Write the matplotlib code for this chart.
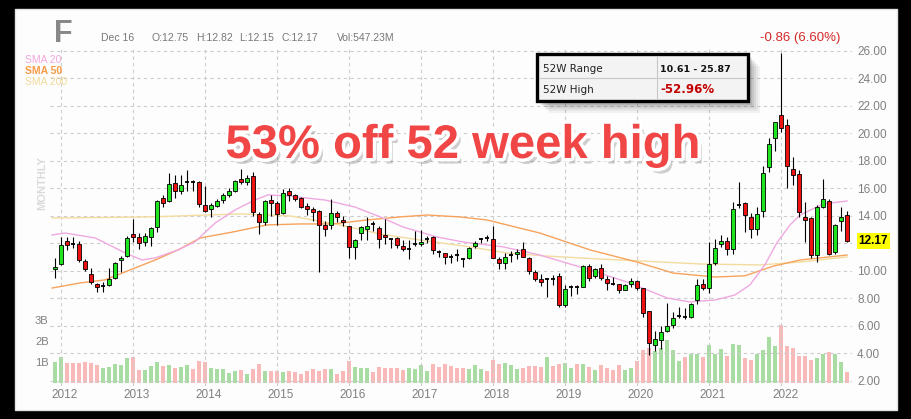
import numpy as np
import matplotlib.pyplot as plt
import matplotlib.patheffects as pe
from matplotlib.patches import Rectangle
from matplotlib.transforms import blended_transform_factory

plt.rcParams['font.family'] = ['Liberation Sans', 'DejaVu Sans']

# monthly candles, Dec 2011 .. Dec 2022 (index 0 = Dec 2011)
opens = [10.12, 10.54, 12.20, 12.00, 11.95, 10.73, 9.80, 9.02, 8.90, 9.00, 9.51, 10.80, 11.10, 12.68, 12.49, 12.10,
         12.49, 13.17, 15.32, 15.07, 16.39, 15.78, 16.46, 16.46, 16.46, 14.83, 14.51, 14.70, 15.17, 15.56, 15.85, 16.71,
         16.46, 16.88, 14.15, 13.54, 15.17, 14.95, 14.20, 15.78, 15.54, 15.32, 14.76, 14.51, 14.39, 13.37, 13.32, 14.22,
         13.71, 13.30, 11.73, 12.76, 13.05, 13.40, 13.15, 12.62, 12.31, 12.38, 11.82, 11.61, 11.93, 11.94, 12.29, 12.47,
         11.41, 11.28, 11.03, 11.15, 10.91, 10.97, 11.82, 12.29, 12.43, 12.30, 10.85, 10.60, 11.15, 11.21, 11.58, 10.92,
         9.93, 9.42, 9.44, 9.45, 9.66, 7.50, 8.79, 8.85, 8.84, 10.39, 9.64, 10.24, 9.44, 9.09, 9.08, 8.64,
         9.08, 9.25, 8.79, 7.07, 4.62, 4.95, 5.66, 6.10, 6.70, 6.66, 6.68, 7.87, 9.08, 8.76, 10.60, 11.94,
         12.21, 11.60, 14.78, 14.92, 13.95, 13.05, 14.36, 17.59, 19.70, 21.35, 20.62, 17.39, 17.03, 13.95, 13.83, 11.16,
         14.68, 15.09, 11.41, 13.60, 14.07]
highs = [10.98, 12.49, 12.44, 12.44, 12.20, 10.90, 10.24, 9.14, 9.22, 10.20, 10.66, 11.10, 12.56, 13.76, 12.73, 12.73,
         13.17, 15.17, 15.49, 17.12, 17.00, 17.00, 17.37, 16.58, 16.54, 16.15, 14.93, 15.24, 15.66, 16.05, 16.63, 17.44,
         16.95, 17.20, 14.27, 15.17, 15.56, 15.07, 15.98, 16.05, 15.61, 15.37, 14.93, 14.63, 14.44, 13.66, 15.22, 14.39,
         14.02, 13.30, 12.32, 13.30, 13.90, 13.66, 13.30, 13.76, 12.31, 12.47, 12.23, 12.23, 12.91, 12.96, 12.55, 12.55,
         11.50, 11.33, 11.26, 11.58, 10.91, 11.75, 12.18, 12.42, 12.59, 13.27, 11.02, 11.33, 11.45, 11.58, 12.11, 11.02,
         10.05, 9.80, 9.51, 9.68, 9.85, 9.00, 8.96, 8.96, 10.41, 10.48, 10.24, 10.48, 9.61, 9.56, 9.08, 9.08,
         9.51, 9.37, 8.79, 7.07, 5.66, 6.00, 7.65, 7.00, 7.35, 7.33, 7.67, 9.44, 9.44, 12.10, 12.33, 12.62,
         12.50, 15.04, 16.50, 15.04, 14.19, 14.68, 17.64, 19.65, 20.86, 25.87, 21.05, 18.27, 17.35, 15.04, 13.95, 14.80,
         16.69, 15.24, 13.39, 14.68, 14.36]
lows = [9.46, 10.45, 11.51, 11.66, 10.68, 9.99, 9.07, 8.49, 8.46, 8.93, 9.39, 9.93, 11.00, 12.12, 11.59, 11.83,
        11.83, 12.85, 14.63, 15.00, 15.32, 15.61, 15.80, 15.85, 14.63, 14.27, 13.95, 14.63, 14.93, 15.37, 15.73, 16.34,
        16.22, 14.02, 12.66, 13.37, 14.00, 13.37, 14.15, 15.12, 15.07, 14.58, 14.07, 13.66, 9.95, 12.56, 13.05, 13.54,
        13.30, 10.98, 10.85, 12.24, 12.24, 12.93, 11.70, 11.99, 11.65, 11.65, 11.45, 10.85, 11.82, 11.82, 12.06, 11.26,
        11.02, 10.53, 10.60, 10.73, 10.29, 10.90, 11.70, 12.06, 12.18, 10.92, 10.17, 10.12, 10.65, 10.85, 11.02, 9.80,
        9.27, 8.90, 8.10, 8.96, 7.38, 7.38, 8.16, 8.35, 8.84, 9.27, 9.51, 9.32, 8.59, 8.96, 8.42, 8.59,
        8.84, 8.59, 6.65, 3.92, 4.18, 4.30, 5.56, 5.85, 6.55, 6.53, 6.60, 7.62, 8.59, 8.40, 10.44, 11.77,
        11.16, 11.21, 14.56, 12.86, 12.38, 12.62, 13.95, 17.22, 18.73, 20.13, 16.01, 16.25, 13.95, 12.13, 10.92, 10.63,
        14.61, 11.16, 11.26, 12.93, 12.13]
closes = [10.29, 11.88, 11.90, 11.99, 10.83, 10.12, 9.22, 8.85, 8.91, 9.39, 10.61, 10.93, 12.39, 12.49, 12.07, 12.56,
          13.10, 15.12, 14.95, 16.29, 15.80, 16.22, 16.47, 16.45, 14.88, 14.39, 14.83, 15.07, 15.56, 15.85, 16.54, 16.46,
          16.78, 14.27, 13.54, 15.12, 14.95, 14.15, 15.68, 15.54, 15.24, 14.68, 14.51, 14.27, 13.37, 13.05, 14.20, 13.90,
          13.54, 11.76, 12.24, 13.22, 13.30, 13.39, 12.35, 12.47, 12.30, 11.87, 11.58, 11.62, 11.94, 12.11, 12.30, 11.50,
          11.40, 11.02, 11.02, 11.14, 10.90, 11.70, 12.00, 12.30, 12.42, 10.92, 10.56, 11.02, 11.16, 11.40, 11.04, 10.00,
          9.39, 9.22, 9.45, 9.44, 7.55, 8.72, 8.80, 8.84, 10.39, 9.49, 10.17, 9.49, 9.15, 9.08, 8.59, 9.00,
          9.25, 8.76, 6.97, 4.76, 5.02, 5.58, 6.00, 6.55, 6.71, 6.65, 7.63, 9.00, 8.76, 10.48, 11.65, 12.21,
          11.60, 14.48, 14.80, 14.07, 13.05, 14.12, 17.10, 19.21, 20.81, 20.42, 17.64, 16.98, 14.27, 13.71, 11.16, 14.68,
          15.21, 11.21, 13.35, 13.90, 12.17]
volumes = [0.97, 1.21, 0.92, 0.95, 0.92, 1.00, 0.95, 0.84, 0.70, 0.75, 0.89, 0.84, 1.16, 1.21, 0.60, 0.60,
           0.79, 0.98, 0.79, 0.83, 0.70, 0.75, 0.83, 0.67, 1.05, 0.98, 0.70, 0.63, 0.65, 0.48, 0.57, 0.60,
           0.41, 0.65, 0.89, 0.56, 0.56, 0.56, 0.51, 0.57, 0.51, 0.41, 0.56, 0.65, 0.57, 0.67, 0.65, 0.41,
           0.56, 1.05, 0.75, 0.70, 0.70, 0.51, 0.75, 0.70, 0.70, 0.70, 0.60, 0.70, 0.67, 0.84, 0.56, 0.89,
           0.75, 0.89, 0.81, 0.68, 0.68, 0.65, 0.84, 0.65, 0.56, 1.08, 0.89, 0.92, 0.83, 0.67, 0.70, 0.79,
           0.79, 0.76, 1.22, 0.81, 0.89, 0.95, 0.70, 0.89, 0.89, 0.75, 0.60, 0.84, 0.70, 0.62, 0.83, 0.62,
           0.71, 1.05, 1.56, 1.63, 1.52, 1.63, 2.03, 1.56, 1.05, 1.21, 1.35, 1.37, 1.21, 1.81, 1.37, 1.59,
           1.27, 1.84, 1.81, 1.17, 1.08, 1.35, 1.56, 2.19, 1.75, 2.75, 1.75, 1.63, 1.27, 1.27, 1.08, 1.16,
           1.35, 1.48, 1.37, 0.98, 0.52]

years = [str(y) for y in range(2012, 2023)]
price_ticks = list(range(2, 27, 2))
vol_ticks = [1, 2, 3]
vol_labels = ['1B', '2B', '3B']

# moving averages (month index, price)
sma20_x = [-0.5, 1.7, 6.7, 11.7, 14.5, 16.7, 20.5, 23.3, 26.7, 30, 33.3, 35.5, 38.8, 45, 50, 54.2, 58, 63.7, 68,
           74.7, 80.8, 89.2, 95.8, 102, 105.8, 110, 113.3, 115.8, 118.3, 120.3, 122.5, 124.2, 128, 132]
sma20_y = [12.62, 12.76, 12.40, 11.31, 10.80, 10.95, 11.53, 12.11, 13.49, 14.44, 15.16, 15.53, 15.45, 15.16, 14.65,
           13.93, 13.20, 12.47, 12.11, 11.75, 11.16, 10.07, 9.13, 8.04, 7.75, 7.89, 8.25, 8.98, 10.44, 12.04, 13.35,
           14.07, 14.87, 15.09]
sma50_x = [-0.5, 4.2, 8.3, 11.2, 16.7, 20.5, 24.2, 29.7, 35.3, 40.8, 46.3, 52, 57.5, 62, 67.5, 72, 76.7, 80.8,
           89.2, 97, 103, 110, 115, 119.7, 124.2, 132]
sma50_y = [8.76, 9.13, 9.35, 9.85, 10.80, 11.53, 12.40, 12.84, 13.35, 13.42, 13.42, 13.71, 13.93, 14.07, 13.93,
           13.71, 13.20, 12.76, 11.53, 10.65, 9.85, 9.56, 9.65, 10.35, 10.80, 11.16]
sma200_x = [-0.5, 15.8, 30.8, 39.2, 46.7, 54.2, 60.8, 69.2, 75.3, 81.7, 90.8, 97.5, 107.5, 117.5, 124.2, 132]
sma200_y = [13.85, 13.93, 14.15, 14.00, 13.42, 12.69, 12.25, 11.75, 11.31, 11.09, 10.87, 10.73, 10.51, 10.44,
            10.65, 11.02]

W, H = 911, 419


def fx(px):
    return px / W


def fy(py):
    return 1 - py / H


fig = plt.figure(figsize=(W / 100, H / 100), dpi=100, facecolor='black')
fig.patches.append(Rectangle((fx(15), fy(410)), fx(897) - fx(15), fy(9) - fy(410), transform=fig.transFigure,
                             facecolor='#fdfdfd', edgecolor='#e4e4e4', lw=1, zorder=-10))

ax = fig.add_axes([fx(50), fy(386), fx(852) - fx(50), fy(46) - fy(386)])
ax2 = ax.twinx()
ax.set_zorder(2)
ax.patch.set_visible(False)
ax2.set_zorder(1)

idx = np.arange(len(closes))
o = np.array(opens)
c = np.array(closes)
up = c >= o

# volume
ax2.bar(idx, volumes, width=0.8, color=np.where(up, '#a9dca3', '#f9b9b9'), lw=0)
ax2.set_ylim(-0.157, 16.03)
ax2.yaxis.set_ticks_position('left')
ax2.set_yticks(vol_ticks, labels=vol_labels)
ax2.tick_params(axis='y', length=0, pad=1, labelsize=8, labelcolor='#808080')

# moving averages
ax.plot(sma200_x, sma200_y, color='#f3dca0', lw=1.0, zorder=2)
ax.plot(sma50_x, sma50_y, color='#f7a35c', lw=1.0, zorder=2)
ax.plot(sma20_x, sma20_y, color='#efa9e0', lw=1.0, zorder=2)

# candles
ax.vlines(idx, lows, highs, color='black', lw=0.8, zorder=3)
doji = np.abs(c - o) < 0.05
body = ~doji
ax.bar(idx[body], np.abs(c - o)[body], bottom=np.minimum(o, c)[body], width=0.72,
       color=np.where(up, '#1ee61e', '#ee1111')[body], edgecolor='black', lw=0.6, zorder=4)
ax.hlines(c[doji], idx[doji] - 0.38, idx[doji] + 0.38, color='black', lw=1.3, zorder=4)

ax.set_xlim(-0.833, 132.83)
ax.set_ylim(1.636, 26.36)

# the 12.00 label sits under the last-price marker
ax.yaxis.tick_right()
ax.set_yticks(price_ticks, labels=['' if p == 12 else f'{p:.2f}' for p in price_ticks])
ax.tick_params(axis='y', length=0, pad=3.6, labelsize=8.5, labelcolor='#808080')
jan = [1 + 12 * k for k in range(len(years))]
ax.set_xticks([j + 0.67 for j in jan], labels=years)
ax.set_xticks(jan, minor=True)
ax.tick_params(axis='x', which='both', length=0, pad=2.5, labelsize=8.5, labelcolor='#808080')
ax.grid(axis='y', which='major', color='#cccccc', ls=(0, (3, 3)), lw=0.8)
ax.grid(axis='x', which='minor', color='#cccccc', ls=(0, (3, 3)), lw=0.8)
for a in (ax, ax2):
    for s in a.spines.values():
        s.set_visible(False)

# last price marker
tr = blended_transform_factory(ax.transAxes, ax.transData)
ax.text(1.008, closes[-1], f'{closes[-1]:.2f}', transform=tr, ha='left', va='center', fontsize=8.5,
        fontweight='bold', color='black', zorder=10,
        bbox=dict(boxstyle='square,pad=0.15', facecolor='#ffff00', edgecolor='none'))

# header
fig.text(fx(54), fy(42), 'F', fontsize=22, fontweight='bold', color='#888888', va='baseline')
hdr = [(101, 'Dec 16'), (152, 'O:12.75'), (196, 'H:12.82'), (239, 'L:12.15'), (281, 'C:12.17'),
       (337, 'Vol:547.23M')]
for px, t in hdr:
    fig.text(fx(px), fy(41), t, fontsize=7.5, color='#777777', va='baseline')
fig.text(fx(25), fy(63), 'SMA 20', fontsize=7.5, color='#f0a6dc', va='baseline')
fig.text(fx(25), fy(74), 'SMA 50', fontsize=7.5, color='#f79a45', fontweight='bold', va='baseline')
fig.text(fx(25), fy(85), 'SMA 200', fontsize=7.5, color='#f0da98', va='baseline')
fig.text(fx(42), fy(183), 'MONTHLY', fontsize=8, fontweight='bold', color='#dadada', rotation=90,
         ha='center', va='center')

# 52W box with shadow
for k, a in enumerate([0.05, 0.06, 0.08, 0.1, 0.12]):
    off = 12 - 2 * k
    fig.patches.append(Rectangle((fx(537 + off), fy(101 + off)), fx(211), fy(0) - fy(47), transform=fig.transFigure,
                                 facecolor='#333333', edgecolor='none', alpha=a, zorder=8))
fig.patches.append(Rectangle((fx(537), fy(101)), fx(211), fy(0) - fy(47), transform=fig.transFigure,
                             facecolor='#f3f3f3', edgecolor='black', lw=2.4, zorder=9))
fig.add_artist(plt.Line2D([fx(540), fx(745)], [fy(78), fy(78)], color='#c8c8c8', lw=0.8, zorder=10))
fig.add_artist(plt.Line2D([fx(657), fx(657)], [fy(56), fy(99)], color='#c8c8c8', lw=0.8, zorder=10))
fig.text(fx(543), fy(72), '52W Range', fontsize=7.5, family='DejaVu Sans', color='#222222', zorder=11)
fig.text(fx(543), fy(93), '52W High', fontsize=7.5, family='DejaVu Sans', color='#222222', zorder=11)
fig.text(fx(660), fy(72), '10.61 - 25.87', fontsize=6.8, family='DejaVu Sans', fontweight='bold',
         color='#111111', zorder=11)
fig.text(fx(660), fy(93), '-52.96%', fontsize=8.5, family='DejaVu Sans', fontweight='bold',
         color='#c40000', zorder=11)

fig.text(fx(800), fy(41), '-0.86 (6.60%)', fontsize=9.5, color='#d42a2a', ha='center', va='baseline', zorder=11)

# headline
fig.text(fx(463), fy(158), '53% off 52 week high', fontsize=34, fontweight='bold', color='#f04646',
         ha='center', va='baseline', zorder=12,
         path_effects=[pe.SimplePatchShadow(offset=(3, -4), shadow_rgbFace='#777777', alpha=0.35),
                       pe.Stroke(linewidth=5, foreground='white'), pe.Normal()])

fig.savefig('out.png', dpi=100, facecolor=fig.get_facecolor())
